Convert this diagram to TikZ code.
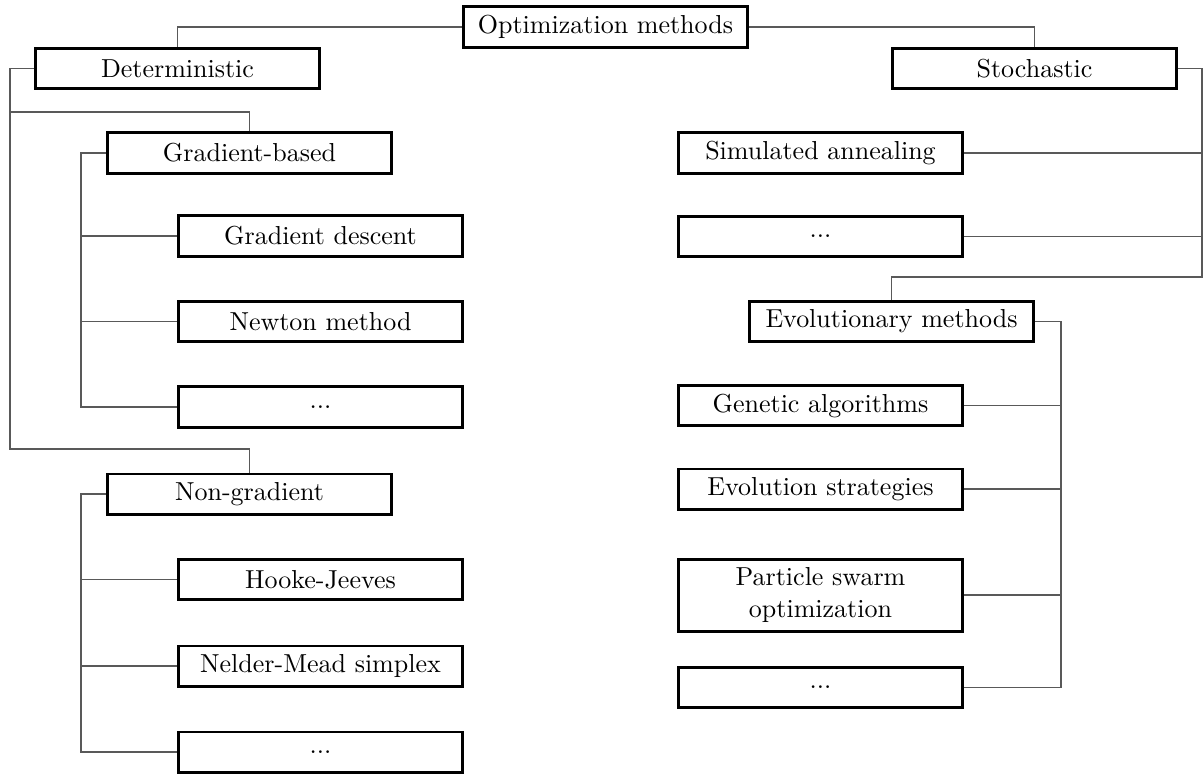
\documentclass[tikz,border=0pt]{standalone}
\begin{document}
\begin{tikzpicture}[x=0.3846pt,y=-0.3846pt,
  box/.style={draw=black,line width=1.15pt,minimum width=109.2pt,minimum height=15.4pt,inner sep=0pt,align=center,font=\normalsize},
  tall/.style={box,minimum height=27.7pt},
  link/.style={draw=black!65,line width=0.6pt}]
\useasboundingbox (0,0) rectangle (1203,774);
% nodes
\node[box] (opt) at (605.5,27) {Optimization methods};
\node[box] (det) at (177.5,68.5) {Deterministic};
\node[box] (sto) at (1034.5,68.5) {Stochastic};
\node[box] (grad) at (249.5,153) {Gradient-based};
\node[box] (gd) at (320.5,236) {Gradient descent};
\node[box] (nm) at (320.5,321.5) {Newton method};
\node[box] (d1) at (320.5,407) {...};
\node[box] (ng) at (249.5,494) {Non-gradient};
\node[box] (hj) at (320.5,579.5) {Hooke-Jeeves};
\node[box] (nms) at (320.5,666) {Nelder-Mead simplex};
\node[box] (d2) at (320.5,752) {...};
\node[box] (sa) at (820.5,153) {Simulated annealing};
\node[box] (d3) at (820.5,236.5) {...};
\node[box] (evo) at (891.5,321.5) {Evolutionary methods};
\node[box] (ga) at (820.5,405.5) {Genetic algorithms};
\node[box] (es) at (820.5,489) {Evolution strategies};
\node[tall] (pso) at (820.5,595) {Particle swarm\\optimization};
\node[box] (d4) at (820.5,687.5) {...};
% coordinates
\coordinate (L0) at (10,68.5);
\coordinate (L1) at (10,112);
\coordinate (L2) at (10,449);
\coordinate (G0) at (81,153);
\coordinate (G1) at (81,407);
\coordinate (N0) at (81,494);
\coordinate (N1) at (81,752);
\coordinate (R0) at (1202,68.5);
\coordinate (R1) at (1202,277);
\coordinate (E0) at (1061,321.5);
\coordinate (E1) at (1061,687.5);
% connectors
\draw[link] (opt.west) -| (det.north);
\draw[link] (opt.east) -| (sto.north);
\draw[link] (det.west) -- (L0) -- (L2) -| (ng.north);
\draw[link] (L1) -| (grad.north);
\draw[link] (grad.west) -- (G0) -- (G1) -- (d1.west);
\draw[link] (gd.west) -- (gd.west -| G0);
\draw[link] (nm.west) -- (nm.west -| G0);
\draw[link] (ng.west) -- (N0) -- (N1) -- (d2.west);
\draw[link] (hj.west) -- (hj.west -| N0);
\draw[link] (nms.west) -- (nms.west -| N0);
\draw[link] (sto.east) -- (R0) -- (R1) -| (evo.north);
\draw[link] (sa.east) -- (sa.east -| R0);
\draw[link] (d3.east) -- (d3.east -| R0);
\draw[link] (evo.east) -- (E0) -- (E1) -- (d4.east);
\draw[link] (ga.east) -- (ga.east -| E0);
\draw[link] (es.east) -- (es.east -| E0);
\draw[link] (pso.east) -- (pso.east -| E0);
\end{tikzpicture}
\end{document}
